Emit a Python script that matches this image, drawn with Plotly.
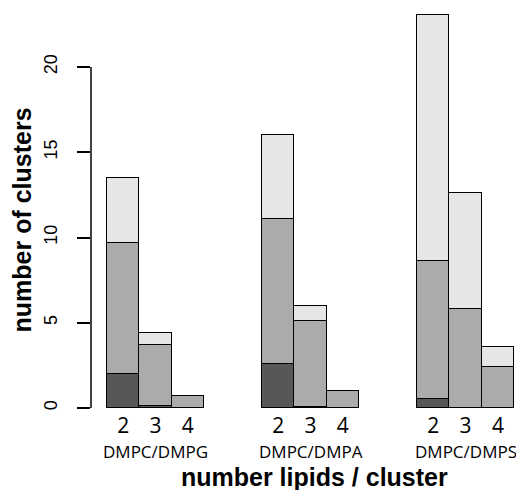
import plotly.graph_objects as go

groups = ["DMPC/DMPG", "DMPC/DMPA", "DMPC/DMPS"]
sizes = ["2", "3", "4"]
# stacked segments per group, per cluster size (bottom -> top)
dark = [[2.0, 0.1, 0.0], [2.6, 0.08, 0.0], [0.5, 0.0, 0.0]]
medium = [[7.7, 3.6, 0.7], [8.5, 5.0, 1.0], [8.1, 5.8, 2.4]]
light = [[3.8, 0.7, 0.0], [4.9, 0.9, 0.0], [14.45, 6.8, 1.2]]

colors = ["#575757", "#ababab", "#e6e6e6"]
group_gap = 1.8

xs, xlabels, group_centers = [], [], []
for gi in range(len(groups)):
    start = gi * (len(sizes) + group_gap)
    cs = [start + 0.5 + k for k in range(len(sizes))]
    xs.extend(cs)
    xlabels.extend(sizes)
    group_centers.append(sum(cs) / len(cs))

fig = go.Figure()
for layer, col in zip([dark, medium, light], colors):
    vals = [v for g in layer for v in g]
    fig.add_trace(go.Bar(x=xs, y=vals, width=1.0, marker=dict(color=col, line=dict(color="black", width=1.5)),
                         showlegend=False))

annotations = []
for gname, gc in zip(groups, group_centers):
    annotations.append(dict(x=gc, xref="x", y=0, yref="y", yshift=-43, text=gname, showarrow=False,
                            font=dict(size=17, color="black", family="Open Sans")))
annotations.append(dict(x=0.527, xref="paper", xanchor="center", y=0, yref="y", yshift=-69,
                        text="<b>number lipids / cluster</b>",
                        showarrow=False, font=dict(size=25, color="black", family="Liberation Sans")))
annotations.append(dict(x=0, xref="paper", xanchor="center", yanchor="middle", xshift=-69, y=11.0, yref="y",
                        text="<b>number of clusters</b>",
                        textangle=-90, showarrow=False, font=dict(size=25, color="black", family="Liberation Sans")))

fig.update_layout(
    barmode="stack",
    width=516, height=490,
    margin=dict(l=91, r=0, t=5, b=82),
    plot_bgcolor="white", paper_bgcolor="white",
    font=dict(family="Liberation Sans", color="black"),
    annotations=annotations,
    shapes=[dict(type="line", xref="paper", x0=0, x1=0, yref="y", y0=0, y1=20,
                 line=dict(color="black", width=1.5))],
    xaxis=dict(range=[-0.495, 12.66], tickvals=xs, ticktext=xlabels, showgrid=False, zeroline=False,
               showline=False, ticks="", ticklabelstandoff=3, tickfont=dict(size=21, color="black", family="Open Sans")),
    yaxis=dict(range=[0, 23.64], tickvals=[0, 5, 10, 15, 20], showgrid=False, zeroline=False,
               showline=False, ticks="outside", ticklen=13, tickwidth=1.5, tickcolor="black",
               tickangle=-90, ticklabelstandoff=13, tickfont=dict(size=18, color="black")),
    bargap=0,
)

fig.write_html("out.html")
